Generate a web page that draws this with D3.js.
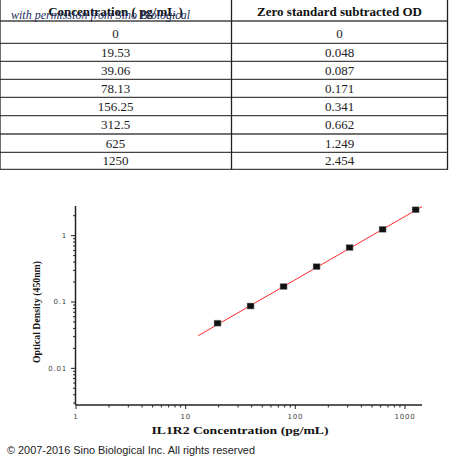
<!DOCTYPE html>
<html>
<head>
<meta charset="utf-8">
<script src="https://d3js.org/d3.v7.min.js"></script>
<style>
  body { margin: 0; background: #fff; }
  svg { display: block; }
</style>
</head>
<body>
<svg id="chart" width="450" height="461"></svg>
<script>
// table + standard curve data
var tableHeaders = ["Concentration ( pg/mL )", "Zero standard subtracted OD"];
var concentrations = [0, 19.53, 39.06, 78.13, 156.25, 312.5, 625, 1250];
var odValues = [0, 0.048, 0.087, 0.171, 0.341, 0.662, 1.249, 2.454];
var concLabels = ["0", "19.53", "39.06", "78.13", "156.25", "312.5", "625", "1250"];
var odLabels = ["0", "0.048", "0.087", "0.171", "0.341", "0.662", "1.249", "2.454"];

// fitted line ends
var fitConc = [13, 1430];
var fitOD = [0.031, 2.74];

var xTicks = [1, 10, 100, 1000];
var yTicks = [0.01, 0.1, 1];

var svg = d3.select("#chart");

// ---- table ----
var rowLines = [21, 43.3, 61.3, 79.3, 97.3, 115.7, 134, 152.3, 169.3];
var colX = [0, 231.5, 447.5];
var table = svg.append("g");

table.selectAll("line.h")
  .data(rowLines)
  .enter().append("line")
  .attr("x1", 0).attr("x2", 448)
  .attr("y1", d => d).attr("y2", d => d)
  .attr("stroke", "#444").attr("stroke-width", 1.3);

table.selectAll("line.v")
  .data(colX)
  .enter().append("line")
  .attr("x1", d => d).attr("x2", d => d)
  .attr("y1", 0).attr("y2", 169.3)
  .attr("stroke", "#222").attr("stroke-width", 1.3);

var colCenter = [115.5, 339.5];

table.selectAll("text.head")
  .data(tableHeaders)
  .enter().append("text")
  .attr("x", (d, i) => colCenter[i])
  .attr("y", 15.5)
  .attr("text-anchor", "middle")
  .attr("font-family", "Liberation Serif, serif")
  .attr("font-weight", "bold")
  .attr("font-size", "13px")
  .attr("fill", "#111")
  .text(d => d);

var rowBase = [38, 56.5, 74.5, 92.5, 110.8, 129, 147.5, 165];
var rows = concLabels.map((c, i) => [c, odLabels[i]]);

rows.forEach(function(r, i) {
  table.selectAll("text.r" + i)
    .data(r)
    .enter().append("text")
    .attr("x", (d, j) => colCenter[j])
    .attr("y", rowBase[i])
    .attr("text-anchor", "middle")
    .attr("font-family", "Liberation Serif, serif")
    .attr("font-size", "13px")
    .attr("fill", "#222")
    .text(d => d);
});

// watermark over the header
svg.append("text")
  .attr("x", 11)
  .attr("y", 19)
  .attr("font-family", "Liberation Serif, serif")
  .attr("font-style", "italic")
  .attr("font-size", "13px")
  .attr("fill", "#1d2b5e")
  .attr("textLength", 179)
  .attr("lengthAdjust", "spacingAndGlyphs")
  .text("with permission from Sino Biological");

// ---- plot ----
var x = d3.scaleLog().domain([1, 1430]).range([76, 422]);
var y = d3.scaleLog().domain([0.0028, 2.8]).range([405, 206]);

var plot = svg.append("g");

function minorTicks(domain) {
  var out = [];
  var lo = Math.floor(Math.log10(domain[0])), hi = Math.ceil(Math.log10(domain[1]));
  for (var e = lo; e < hi; e++) {
    for (var m = 2; m <= 9; m++) {
      var v = m * Math.pow(10, e);
      if (v >= domain[0] && v <= domain[1]) out.push(v);
    }
  }
  return out;
}

// x axis
plot.append("line")
  .attr("x1", 76).attr("x2", 422).attr("y1", 405).attr("y2", 405)
  .attr("stroke", "#222").attr("stroke-width", 1.5);
plot.selectAll("line.xmin")
  .data(minorTicks(x.domain()))
  .enter().append("line")
  .attr("x1", d => x(d)).attr("x2", d => x(d))
  .attr("y1", 405).attr("y2", 407.5)
  .attr("stroke", "#222").attr("stroke-width", 1);
plot.selectAll("line.xmaj")
  .data(xTicks)
  .enter().append("line")
  .attr("x1", d => x(d)).attr("x2", d => x(d))
  .attr("y1", 405).attr("y2", 409)
  .attr("stroke", "#222").attr("stroke-width", 1);
plot.selectAll("text.xl")
  .data(xTicks)
  .enter().append("text")
  .attr("x", d => x(d))
  .attr("y", 419)
  .attr("text-anchor", "middle")
  .attr("font-family", "DejaVu Sans, sans-serif")
  .attr("font-size", "7px")
  .attr("letter-spacing", "0.8px")
  .attr("fill", "#444")
  .text(d => String(d));

// y axis
plot.append("line")
  .attr("x1", 75.5).attr("x2", 75.5).attr("y1", 206).attr("y2", 405)
  .attr("stroke", "#222").attr("stroke-width", 1.5);
plot.selectAll("line.ymin")
  .data(minorTicks(y.domain()))
  .enter().append("line")
  .attr("x1", 73).attr("x2", 75.5)
  .attr("y1", d => y(d)).attr("y2", d => y(d))
  .attr("stroke", "#222").attr("stroke-width", 1);
plot.selectAll("line.ymaj")
  .data(yTicks)
  .enter().append("line")
  .attr("x1", 71).attr("x2", 75.5)
  .attr("y1", d => y(d)).attr("y2", d => y(d))
  .attr("stroke", "#222").attr("stroke-width", 1);
plot.selectAll("text.yl")
  .data(yTicks)
  .enter().append("text")
  .attr("x", 67)
  .attr("y", d => y(d) + 2.5)
  .attr("text-anchor", "end")
  .attr("font-family", "DejaVu Sans, sans-serif")
  .attr("font-size", "7px")
  .attr("letter-spacing", "0.8px")
  .attr("fill", "#444")
  .text(d => String(d));

// fit line
var fitData = fitConc.map((c, i) => [c, fitOD[i]]);
plot.append("path")
  .datum(fitData)
  .attr("d", d3.line().x(d => x(d[0])).y(d => y(d[1])))
  .attr("stroke", "#ff2a2a")
  .attr("stroke-width", 1)
  .attr("fill", "none");

// points (skip the zero standard, it can't sit on a log axis)
var pts = concentrations.map((c, i) => ({ c: c, od: odValues[i] })).filter(d => d.c > 0);
plot.selectAll("rect.pt")
  .data(pts)
  .enter().append("rect")
  .attr("x", d => x(d.c) - 3.5)
  .attr("y", d => y(d.od) - 3)
  .attr("width", 7)
  .attr("height", 6)
  .attr("fill", "#111")
  .attr("stroke", "#999")
  .attr("stroke-width", 0.5);

// axis titles
plot.append("text")
  .attr("x", 240)
  .attr("y", 433.5)
  .attr("text-anchor", "middle")
  .attr("font-family", "Liberation Serif, serif")
  .attr("font-weight", "bold")
  .attr("font-size", "11px")
  .attr("fill", "#111")
  .attr("textLength", 177)
  .attr("lengthAdjust", "spacingAndGlyphs")
  .text("IL1R2 Concentration (pg/mL)");

plot.append("text")
  .attr("transform", "translate(40,312) rotate(-90)")
  .attr("text-anchor", "middle")
  .attr("font-family", "Liberation Serif, serif")
  .attr("font-weight", "bold")
  .attr("font-size", "10px")
  .attr("fill", "#111")
  .attr("textLength", 102)
  .attr("lengthAdjust", "spacingAndGlyphs")
  .text("Optical Density (450nm)");

// copyright
svg.append("text")
  .attr("x", 7)
  .attr("y", 454)
  .attr("font-family", "Liberation Sans, Arial, sans-serif")
  .attr("font-size", "10.5px")
  .attr("fill", "#222")
  .attr("textLength", 248)
  .attr("lengthAdjust", "spacingAndGlyphs")
  .text("\u00a9 2007-2016 Sino Biological Inc. All rights reserved");
</script>
</body>
</html>
